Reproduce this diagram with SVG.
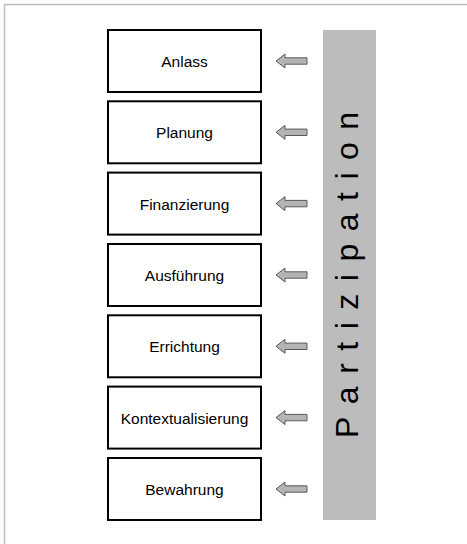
<svg xmlns="http://www.w3.org/2000/svg" width="467" height="544" viewBox="0 0 467 544">
<defs>
<style>
.box rect{fill:#fff;stroke:#000;stroke-width:2}
.box text{font-family:"Liberation Sans",Arial,sans-serif;font-size:15.5px;fill:#000;text-anchor:middle}
.arr{fill:#b4b4b4;stroke:#5a5a5a;stroke-width:1}
</style>
<path id="arrow" d="M0,0 L9,-7 L9,-3.2 L31,-3.2 L31,3.2 L9,3.2 L9,7 Z"/>
</defs>
<rect width="467" height="544" fill="#fff"/>
<rect x="4.5" y="4.5" width="470" height="550" fill="none" stroke="#bdbdbd" stroke-width="1.5"/>
<g id="participation">
<rect x="323" y="30" width="53" height="490" fill="#bcbcbc"/>
<text transform="translate(358,438) rotate(-90)" font-family="&quot;Liberation Sans&quot;,Arial,sans-serif" font-size="32" letter-spacing="12.5" fill="#000">Partizipation</text>
</g>
<g id="n1" class="box"><rect x="108" y="30" width="153" height="62"/><text x="184.5" y="67">Anlass</text></g>
<g id="n2" class="box"><rect x="108" y="101.3" width="153" height="62"/><text x="184.5" y="138.3">Planung</text></g>
<g id="n3" class="box"><rect x="108" y="172.6" width="153" height="62"/><text x="184.5" y="209.6">Finanzierung</text></g>
<g id="n4" class="box"><rect x="108" y="244" width="153" height="62"/><text x="184.5" y="281">Ausführung</text></g>
<g id="n5" class="box"><rect x="108" y="315.3" width="153" height="62"/><text x="184.5" y="352.3">Errichtung</text></g>
<g id="n6" class="box"><rect x="108" y="386.6" width="153" height="62"/><text x="184.5" y="423.6">Kontextualisierung</text></g>
<g id="n7" class="box"><rect x="108" y="458" width="153" height="62"/><text x="184.5" y="495">Bewahrung</text></g>
<g id="connectors">
<use href="#arrow" class="arr" x="276" y="61"/>
<use href="#arrow" class="arr" x="276" y="132.3"/>
<use href="#arrow" class="arr" x="276" y="203.6"/>
<use href="#arrow" class="arr" x="276" y="275"/>
<use href="#arrow" class="arr" x="276" y="346.3"/>
<use href="#arrow" class="arr" x="276" y="417.6"/>
<use href="#arrow" class="arr" x="276" y="489"/>
</g>
</svg>
